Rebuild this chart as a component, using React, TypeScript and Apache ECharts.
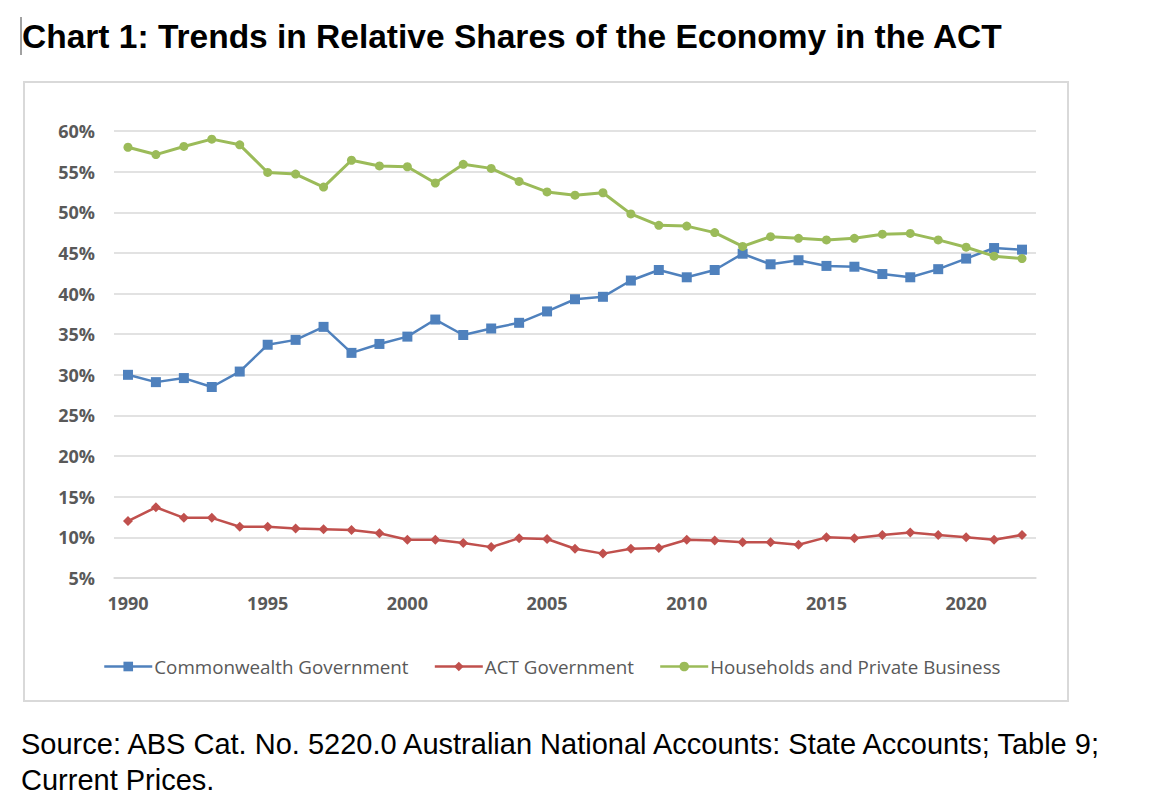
import { useEffect, useRef } from 'react'
import * as echarts from 'echarts'

const years = [
  '1990', '1991', '1992', '1993', '1994', '1995', '1996', '1997', '1998', '1999',
  '2000', '2001', '2002', '2003', '2004', '2005', '2006', '2007', '2008', '2009',
  '2010', '2011', '2012', '2013', '2014', '2015', '2016', '2017', '2018', '2019',
  '2020', '2021', '2022'
]

const commonwealth = [
  30.0, 29.1, 29.6, 28.5, 30.4, 33.7, 34.3, 35.9, 32.7, 33.8, 34.7, 36.8, 34.9, 35.7, 36.4, 37.8,
  39.3, 39.6, 41.6, 42.9, 42.0, 42.9, 44.9, 43.6, 44.1, 43.4, 43.3, 42.4, 42.0, 43.0, 44.3, 45.6, 45.4
]

const actGov = [
  12.0, 13.7, 12.4, 12.4, 11.3, 11.3, 11.1, 11.0, 10.9, 10.5, 9.7, 9.7, 9.3, 8.8, 9.9, 9.8,
  8.6, 8.0, 8.6, 8.7, 9.7, 9.6, 9.4, 9.4, 9.1, 10.0, 9.9, 10.3, 10.6, 10.3, 10.0, 9.7, 10.3
]

const households = [
  58.0, 57.1, 58.1, 59.0, 58.3, 54.9, 54.7, 53.1, 56.4, 55.7, 55.6, 53.6, 55.9, 55.4, 53.8, 52.5,
  52.1, 52.4, 49.8, 48.4, 48.3, 47.5, 45.8, 47.0, 46.8, 46.6, 46.8, 47.3, 47.4, 46.6, 45.7, 44.6, 44.3
]

const TITLE = 'Chart 1: Trends in Relative Shares of the Economy in the ACT'
const SOURCE_1 = 'Source: ABS Cat. No. 5220.0 Australian National Accounts: State Accounts; Table 9;'
const SOURCE_2 = 'Current Prices.'

const GRAY_TEXT = '#595959'
const GRID_GRAY = '#d9d9d9'

export default function App() {
  const chartRef = useRef<HTMLDivElement | null>(null)

  useEffect(() => {
    if (!chartRef.current) return
    const chart = echarts.init(chartRef.current, undefined, { renderer: 'svg' })

    const option = {
      animation: false,
      backgroundColor: '#ffffff',
      graphic: [
        {
          type: 'rect',
          shape: { x: 24, y: 82, width: 1044, height: 619 },
          style: { fill: 'none', stroke: GRID_GRAY, lineWidth: 2 },
          silent: true
        },
        {
          type: 'line',
          shape: { x1: 21, y1: 17, x2: 21, y2: 55 },
          style: { stroke: '#444', lineWidth: 1 },
          silent: true
        },
        {
          type: 'text',
          x: 22,
          y: 36,
          style: {
            text: TITLE,
            fill: '#000',
            font: 'bold 33.5px "Liberation Sans", Arial, sans-serif',
            verticalAlign: 'middle'
          }
        },
        {
          type: 'text',
          x: 21,
          y: 744,
          style: {
            text: SOURCE_1,
            fill: '#000',
            font: '29px "Liberation Sans", Arial, sans-serif',
            verticalAlign: 'middle'
          }
        },
        {
          type: 'text',
          x: 21,
          y: 780,
          style: {
            text: SOURCE_2,
            fill: '#000',
            font: '29px "Liberation Sans", Arial, sans-serif',
            verticalAlign: 'middle'
          }
        }
      ],
      grid: { left: 114, right: 119, top: 131, bottom: 223 },
      legend: {
        left: 98,
        top: 652,
        itemWidth: 48,
        itemHeight: 12,
        itemGap: 25,
        lineStyle: { width: 2.5 },
        textStyle: { color: GRAY_TEXT, fontFamily: 'Open Sans', fontSize: 18.8, padding: [0, 0, 0, -3] },
        data: ['Commonwealth Government', 'ACT Government', 'Households and Private Business']
      },
      xAxis: {
        type: 'category',
        data: years,
        boundaryGap: true,
        axisLine: { lineStyle: { color: GRID_GRAY, width: 1.5 } },
        axisTick: { interval: 0, length: 5, lineStyle: { color: GRID_GRAY, width: 1.5 } },
        axisLabel: {
          interval: (index: number) => index % 5 === 0,
          color: GRAY_TEXT,
          fontFamily: 'Open Sans',
          fontWeight: 'bold',
          fontSize: 18,
          margin: 16
        }
      },
      yAxis: {
        type: 'value',
        min: 5,
        max: 60,
        interval: 5,
        axisLine: { show: false },
        axisTick: { show: false },
        splitLine: { lineStyle: { color: GRID_GRAY, width: 1.5 } },
        axisLabel: {
          formatter: '{value}%',
          color: GRAY_TEXT,
          fontFamily: 'Open Sans',
          fontWeight: 'bold',
          fontSize: 18,
          margin: 19
        }
      },
      series: [
        {
          name: 'Commonwealth Government',
          type: 'line',
          data: commonwealth,
          symbol: 'rect',
          symbolSize: 10,
          color: '#4F81BD',
          lineStyle: { width: 2.5 }
        },
        {
          name: 'ACT Government',
          type: 'line',
          data: actGov,
          symbol: 'diamond',
          symbolSize: 10,
          color: '#C0504D',
          lineStyle: { width: 2.5 }
        },
        {
          name: 'Households and Private Business',
          type: 'line',
          data: households,
          symbol: 'circle',
          symbolSize: 9,
          color: '#9BBB59',
          lineStyle: { width: 3 }
        }
      ]
    }

    chart.setOption(option)
    return () => chart.dispose()
  }, [])

  return (
    <div
      ref={chartRef}
      style={{ position: 'absolute', left: 0, top: 0, width: 1155, height: 801 }}
    />
  )
}
